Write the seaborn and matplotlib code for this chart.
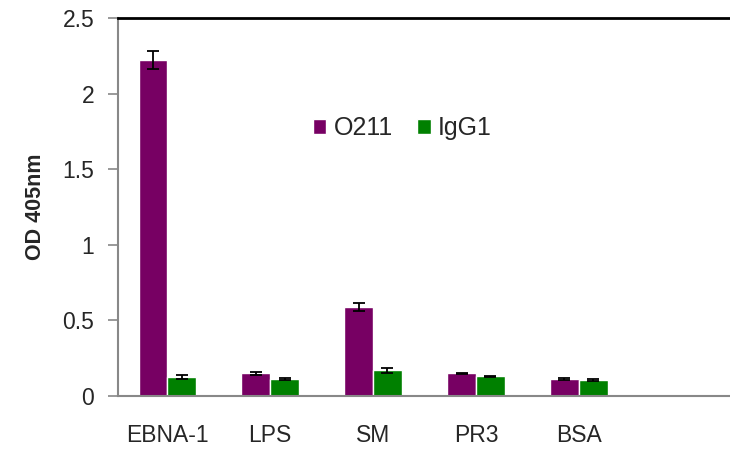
import matplotlib
matplotlib.use("Agg")

import numpy as np
import pandas as pd
import matplotlib.pyplot as plt
import seaborn as sns

# ── Data ──────────────────────────────────────────────────────────────────────
antigens = ["EBNA-1", "LPS", "SM", "PR3", "BSA"]
series = ["O211", "IgG1"]
o211_vals = [2.22, 0.15, 0.59, 0.15, 0.11]
o211_err = [0.06, 0.008, 0.025, 0.005, 0.006]
igg1_vals = [0.125, 0.115, 0.17, 0.13, 0.105]
igg1_err = [0.012, 0.006, 0.015, 0.005, 0.005]

COLORS = {"O211": "#770063", "IgG1": "#008000"}

df = pd.DataFrame({
    "antigen": antigens * 2,
    "antibody": ["O211"] * len(antigens) + ["IgG1"] * len(antigens),
    "od": o211_vals + igg1_vals,
    "err": o211_err + igg1_err,
})

# ── Style ─────────────────────────────────────────────────────────────────────
sns.set_theme(style="white")
plt.rcParams["font.family"] = ["Liberation Sans", "DejaVu Sans"]

fig = plt.figure(figsize=(7.30, 4.49), dpi=100)
ax = fig.add_axes([0.1616, 0.118, 0.8384, 0.842])

sns.barplot(data=df, x="antigen", y="od", hue="antibody", order=antigens,
            hue_order=series, palette=COLORS, width=0.56, saturation=1,
            errorbar=None, ax=ax)

# error bars at the centres of the drawn bars
for container, name in zip(ax.containers, series):
    sub = df[df["antibody"] == name].set_index("antigen").loc[antigens]
    xs = [p.get_x() + p.get_width() / 2 for p in container.patches]
    ax.errorbar(xs, sub["od"].values, yerr=sub["err"].values, fmt="none",
                ecolor="black", elinewidth=1.3, capsize=4, capthick=1.3,
                zorder=5)

ax.set_ylim(0, 2.5)
ax.set_xlim(-0.48, 5.47)
ax.set_yticks([0, 0.5, 1, 1.5, 2, 2.5])
ax.set_yticklabels(["0", "0.5", "1", "1.5", "2", "2.5"])
ax.set_xlabel("")
ax.set_ylabel("OD 405nm", fontsize=15.5, fontweight="bold", labelpad=12)

ax.tick_params(axis="y", which="major", left=True, length=7, width=1.2,
               color="#888888", labelsize=16.5, pad=10)
ax.tick_params(axis="x", bottom=False, labelsize=16.5, pad=14)

for side in ["left", "bottom"]:
    ax.spines[side].set_color("#888888")
    ax.spines[side].set_linewidth(1.5)
ax.spines["top"].set_color("black")
ax.spines["top"].set_linewidth(2)
ax.spines["right"].set_visible(False)

leg = ax.legend(loc="center left", bbox_to_anchor=(0.318, 0.708), ncol=2,
                frameon=False, fontsize=18, handlelength=0.55,
                handleheight=0.55, handletextpad=0.3, columnspacing=0.95,
                borderpad=0, borderaxespad=0)

fig.savefig("out.png", dpi=100)
